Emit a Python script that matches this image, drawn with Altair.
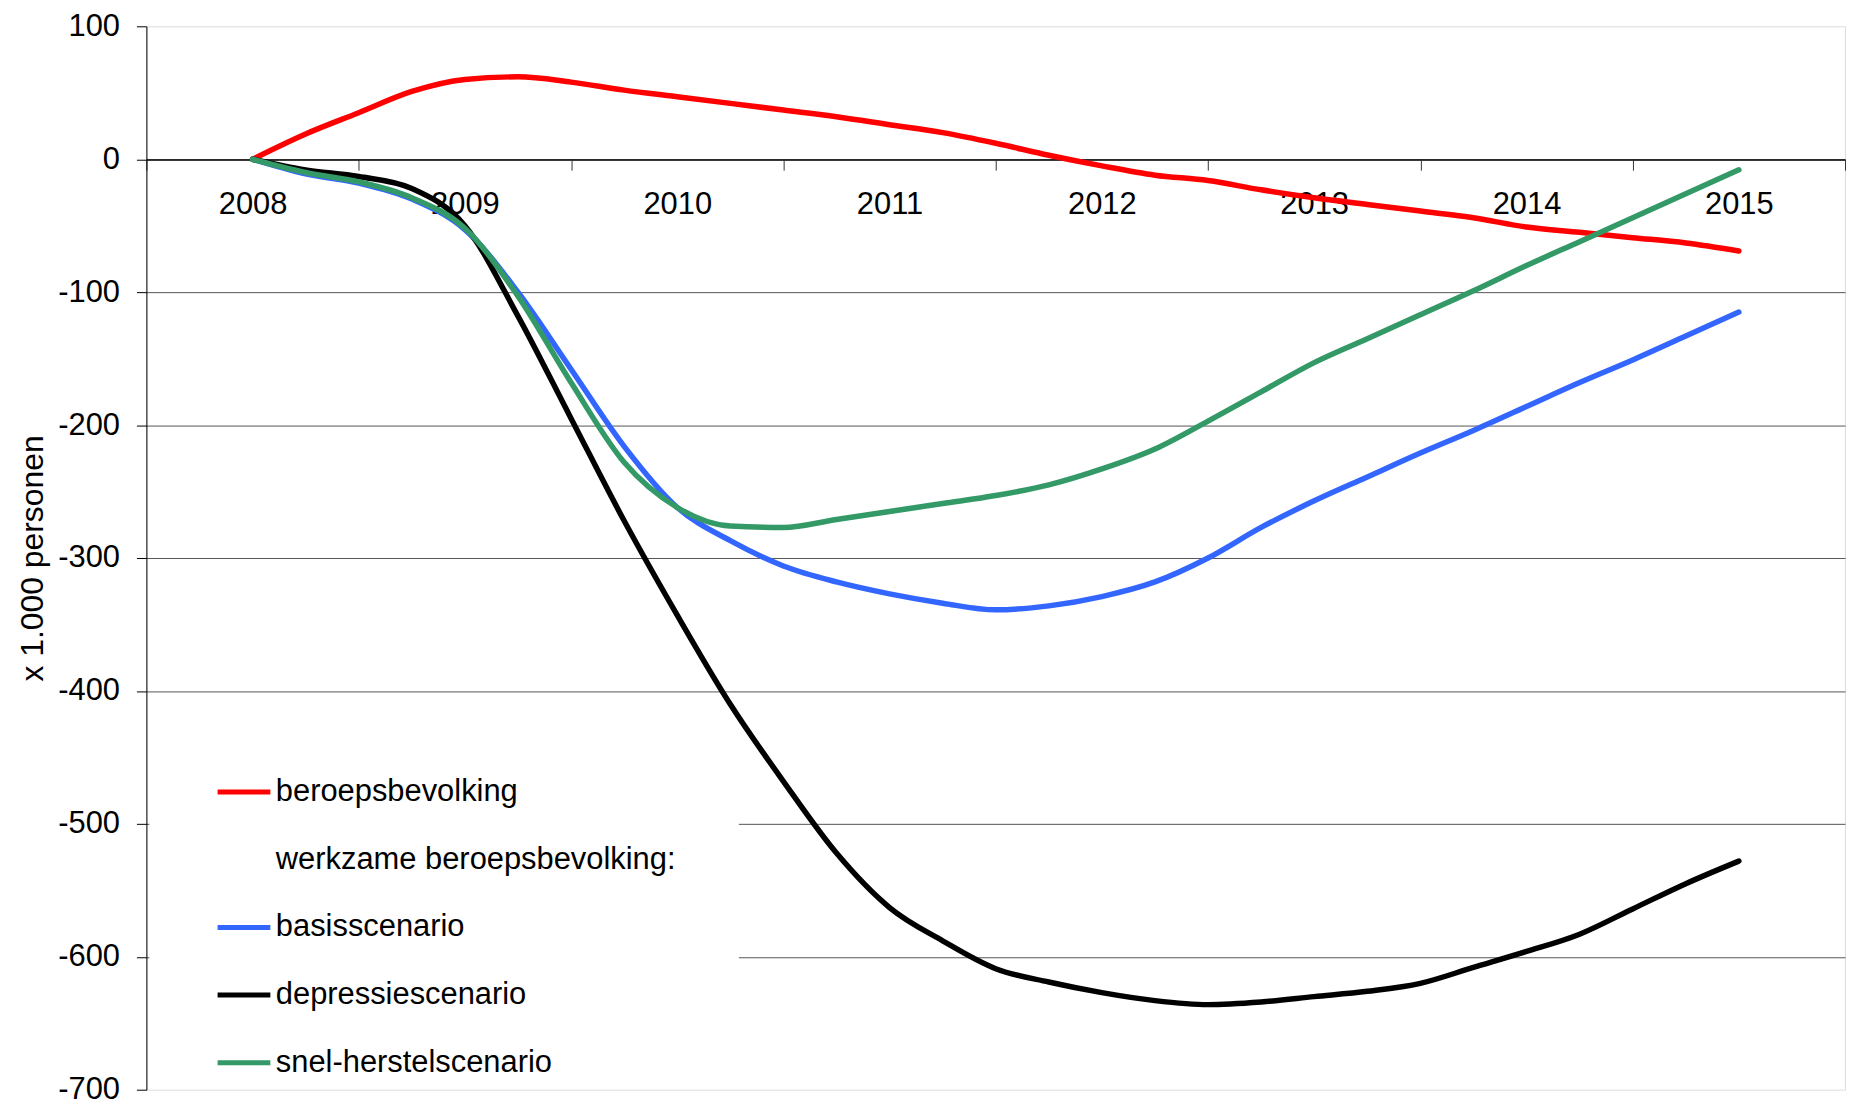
import altair as alt
import pandas as pd

# x positions of the data points (quarters)
quarters = [2008.0, 2008.25, 2008.5, 2008.75, 2009.0, 2009.25, 2009.5, 2009.75,
            2010.0, 2010.25, 2010.5, 2010.75, 2011.0, 2011.25, 2011.5, 2011.75,
            2012.0, 2012.25, 2012.5, 2012.75, 2013.0, 2013.25, 2013.5, 2013.75,
            2014.0, 2014.25, 2014.5, 2014.75, 2015.0]

beroepsbevolking = [0, 19, 35, 51, 60, 62, 58, 52, 47, 42, 37, 32, 26, 20, 12, 3,
                    -5, -12, -16, -23, -29, -34, -39, -44, -51, -55, -59, -63, -69]
basisscenario = [0, -11, -18, -30, -53, -100, -158, -216, -262, -287, -306, -318, -327,
                 -334, -339, -336, -329, -318, -300, -277, -257, -239, -221, -204,
                 -186, -168, -151, -133, -115]
depressiescenario = [0, -8, -13, -22, -50, -118, -195, -272, -343, -410, -468, -522,
                     -563, -588, -609, -619, -627, -633, -636, -634, -630, -626, -620,
                     -608, -596, -583, -564, -545, -528]
snelherstelscenario = [0, -10, -17, -29, -52, -103, -168, -228, -262, -276, -277, -271,
                       -265, -259, -253, -245, -233, -218, -197, -175, -153, -135, -117,
                       -99, -80, -62, -44, -26, -8]

legend_names = ["beroepsbevolking", "werkzame beroepsbevolking:", "basisscenario",
                "depressiescenario", "snel-herstelscenario"]
legend_colors = ["#ff0000", "#ffffff", "#3366ff", "#000000", "#339966"]

x_tick_values = [2007.5, 2008.0, 2008.5, 2009.0, 2009.5, 2010.0, 2010.5, 2011.0, 2011.5,
                 2012.0, 2012.5, 2013.0, 2013.5, 2014.0, 2014.5, 2015.0, 2015.5]
y_tick_values = [100, 0, -100, -200, -300, -400, -500, -600, -700]

rows = []
for name, vals in [("beroepsbevolking", beroepsbevolking),
                   ("basisscenario", basisscenario),
                   ("depressiescenario", depressiescenario),
                   ("snel-herstelscenario", snelherstelscenario)]:
    for t, v in zip(quarters, vals):
        rows.append({"t": t, "v": v, "serie": name})
df = pd.DataFrame(rows)

FONT = "Liberation Sans"
W, H = 1706, 1068
ZERO_OFFSET = H - H * 100 / 800  # pixel distance from bottom edge to value 0

x_axis = alt.Axis(
    values=x_tick_values, title=None, orient="bottom", offset=-ZERO_OFFSET,
    domainColor="#000000", domainWidth=1,
    tickColor="#333333", tickSize=11, tickWidth=1,
    tickOpacity={"condition": {"test": "datum.value % 1 !== 0", "value": 1}, "value": 0},
    labelExpr="datum.value % 1 === 0 ? ('' + datum.value) : ''",
    labelFont=FONT, labelFontSize=31, labelColor="#000000", labelPadding=20,
    labelOverlap=False, labelFlush=False, grid=False,
)

y_axis = alt.Axis(
    values=y_tick_values, title="x 1.000 personen",
    titleFont=FONT, titleFontSize=32, titleFontWeight="normal", titleColor="#000000",
    titleX=-104, titleY=H / 2, titleAngle=270, titleBaseline="alphabetic", titleAlign="center",
    domainColor="#000000", domainWidth=1,
    tickColor="#000000", tickSize=10, tickWidth=1,
    labelExpr="'' + datum.value",
    labelFont=FONT, labelFontSize=31, labelColor="#000000", labelPadding=17,
    labelOverlap=False, labelFlush=False,
    grid=True, gridWidth=1,
    gridColor={"condition": {"test": "datum.value === 0", "value": "#000000"}, "value": "#555555"},
    gridOpacity={"condition": {"test": "datum.value === 100 || datum.value === -700", "value": 0}, "value": 1},
)

legend = alt.Legend(
    title=" ", titleOrient="right", titlePadding=56, titleFontSize=10,
    orient="none", legendX=3, legendY=732, direction="vertical",
    symbolType="stroke", symbolSize=2809, symbolStrokeWidth=5, symbolOffset=58,
    labelFont=FONT, labelFontSize=31, labelColor="#000000", labelLimit=800,
    labelOffset=3, rowPadding=24, padding=8, fillColor="#ffffff",
)

chart = alt.Chart(df).mark_line(
    strokeWidth=5.5, interpolate="monotone", strokeCap="round", strokeJoin="round"
).encode(
    x=alt.X("t:Q", scale=alt.Scale(domain=[2007.5, 2015.5], nice=False, zero=False), axis=x_axis),
    y=alt.Y("v:Q", scale=alt.Scale(domain=[-700, 100], nice=False, zero=False), axis=y_axis),
    color=alt.Color("serie:N", scale=alt.Scale(domain=legend_names, range=legend_colors), legend=legend),
).properties(
    width=W, height=H,
    autosize=alt.AutoSizeParams(type="none"),
    padding={"left": 139, "top": 16, "right": 5, "bottom": 16},
    background="#ffffff",
).configure_view(
    stroke="#808080", strokeWidth=1
).configure(font=FONT)

chart.save("out.html", embed_options={"renderer": "svg", "actions": False})
